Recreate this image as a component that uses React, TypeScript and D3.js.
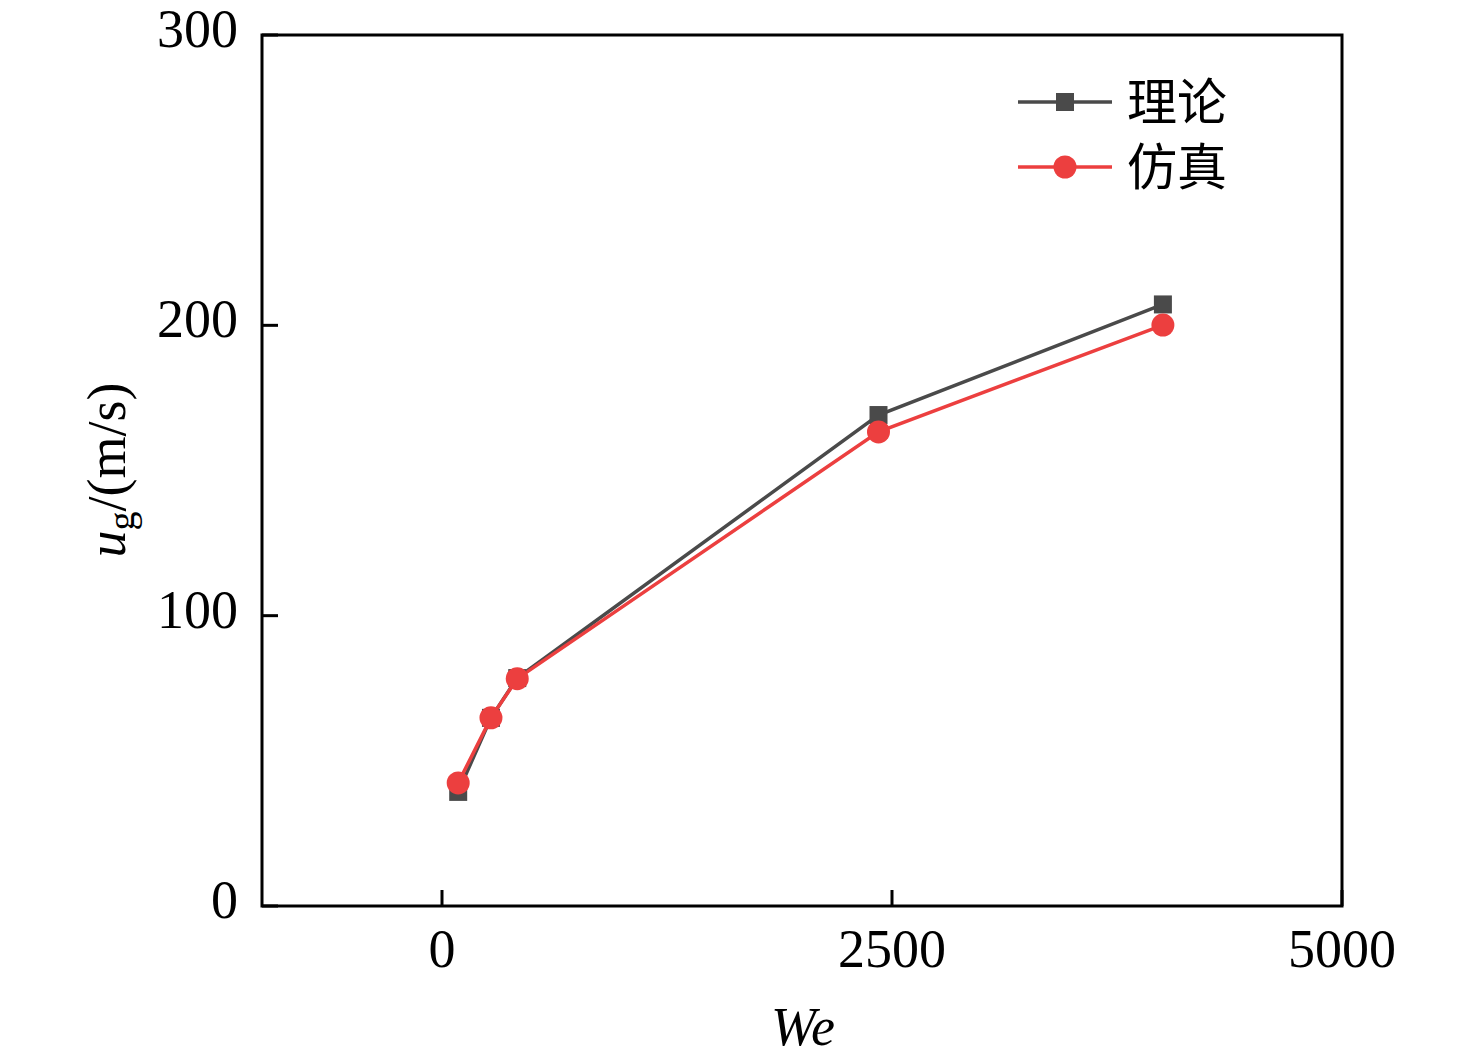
import React from 'react';
import * as d3 from 'd3';

// We number vs gas velocity
const weValues = [90, 272, 418, 2425, 4005];
const theory = [39.3, 64.8, 78.5, 169.1, 207.2];
const simulation = [42.4, 64.8, 78.3, 163.3, 200.1];

const xTicks = [0, 2500, 5000];
const yTicks = [0, 100, 200, 300];

const seriesNames = ['理论', '仿真'];

const W = 1476;
const H = 1063;
const margin = { top: 35, right: 134, bottom: 157, left: 262 };

const GRAY = '#4a4a4a';
const RED = '#ec3f3f';
const SERIF = '"Liberation Serif", "Times New Roman", serif';
const CJK = '"Noto Sans CJK SC", sans-serif';

export default function App() {
  const x = d3.scaleLinear().domain([-1000, 5000]).range([margin.left, W - margin.right]);
  const y = d3.scaleLinear().domain([0, 300]).range([H - margin.bottom, margin.top]);

  const line = d3.line<[number, number]>()
    .x(d => x(d[0]))
    .y(d => y(d[1]));

  const theoryPts = weValues.map((w, i) => [w, theory[i]] as [number, number]);
  const simPts = weValues.map((w, i) => [w, simulation[i]] as [number, number]);

  const x0 = margin.left;
  const x1 = W - margin.right;
  const y0 = H - margin.bottom;
  const y1 = margin.top;
  const tickLen = 16;

  return (
    <svg width={W} height={H} style={{ position: 'absolute', left: 0, top: 0, background: '#fff' }}>
      {/* frame */}
      <rect x={x0} y={y1} width={x1 - x0} height={y0 - y1} fill="none" stroke="#000" strokeWidth={3} />

      {/* x ticks */}
      {xTicks.map(t => (
        <g key={'x' + t}>
          <line x1={x(t)} x2={x(t)} y1={y0} y2={y0 - tickLen} stroke="#000" strokeWidth={3} />
          <text x={x(t)} y={y0 + 61} textAnchor="middle" fontFamily={SERIF} fontSize={54}>{t}</text>
        </g>
      ))}

      {/* y ticks */}
      {yTicks.map(t => (
        <g key={'y' + t}>
          <line x1={x0} x2={x0 + tickLen} y1={y(t)} y2={y(t)} stroke="#000" strokeWidth={3} />
          <text x={x0 - 24} y={y(t) + 12} textAnchor="end" fontFamily={SERIF} fontSize={54}>{t}</text>
        </g>
      ))}

      {/* axis titles */}
      <text x={803} y={1045} textAnchor="middle" fontFamily={SERIF} fontSize={54} fontStyle="italic">We</text>
      <text transform="translate(125,470) rotate(-90)" textAnchor="middle" fontFamily={SERIF} fontSize={54}>
        <tspan fontStyle="italic">u</tspan>
        <tspan fontSize={38} dy={9}>g</tspan>
        <tspan dy={-9}>/(m/s)</tspan>
      </text>

      {/* series lines */}
      <path d={line(theoryPts) || ''} fill="none" stroke={GRAY} strokeWidth={3.5} />
      <path d={line(simPts) || ''} fill="none" stroke={RED} strokeWidth={3.5} />

      {theoryPts.map((p, i) => (
        <rect key={'s' + i} x={x(p[0]) - 9} y={y(p[1]) - 9} width={18} height={18} fill={GRAY} />
      ))}
      {simPts.map((p, i) => (
        <circle key={'c' + i} cx={x(p[0])} cy={y(p[1])} r={11.5} fill={RED} />
      ))}

      {/* legend */}
      {seriesNames.map((name, i) => {
        const ly = 102 + i * 65;
        const color = i === 0 ? GRAY : RED;
        return (
          <g key={name}>
            <line x1={1018} x2={1112} y1={ly} y2={ly} stroke={color} strokeWidth={3.5} />
            {i === 0
              ? <rect x={1056} y={ly - 9} width={18} height={18} fill={color} />
              : <circle cx={1065} cy={ly} r={11.5} fill={color} />}
            <text x={1127} y={ly + 18} fontFamily={CJK} fontSize={50}>{name}</text>
          </g>
        );
      })}
    </svg>
  );
}
